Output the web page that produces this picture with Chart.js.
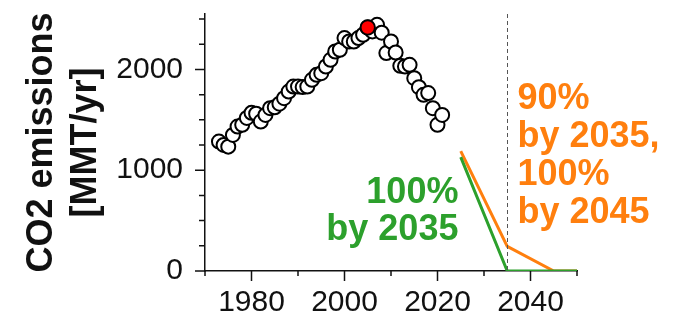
<!DOCTYPE html>
<html>
<head>
<meta charset="utf-8">
<script src="https://cdn.jsdelivr.net/npm/chart.js@4.4.1/dist/chart.umd.min.js"></script>
<style>
  html, body { margin: 0; padding: 0; background: #fff; }
  #wrap { width: 681px; height: 325px; position: relative; }
</style>
</head>
<body>
<div id="wrap"><canvas id="c" width="681" height="325"></canvas></div>
<script>
// ---------- data ----------
const histYears = [1973,1974,1975,1976,1977,1978,1979,1980,1981,1982,1983,1984,1985,1986,1987,1988,1989,1990,1991,1992,1993,1994,1995,1996,1997,1998,1999,2000,2001,2002,2003,2004,2005,2006,2007,2008,2009,2010,2011,2012,2013,2014,2015,2016,2017,2018,2019,2020,2021];
const histValues = [1284,1251,1234,1350,1433,1450,1519,1569,1560,1483,1549,1616,1625,1660,1715,1780,1830,1830,1825,1830,1897,1946,1963,2029,2095,2178,2195,2311,2277,2277,2311,2344,2416,2377,2443,2365,2162,2277,2168,2036,2029,2046,1913,1824,1748,1765,1616,1450,1549];
const peakYear = 2005;

const greenYears  = [2025, 2035, 2050];
const greenValues = [1130, 0, 0];
const orangeYears  = [2025, 2035, 2045, 2050];
const orangeValues = [1190, 245, 0, 0];

const targetYear = 2035;                 // dashed reference line

const greenLabel  = ["100%", "by 2035"];
const orangeLabel = ["90%", "by 2035,", "100%", "by 2045"];

const xTickLabels = [1980, 2000, 2020, 2040];
const yTickLabels = [0, 1000, 2000];

// ---------- build ----------
const toXY = (xs, ys) => xs.map((x, i) => ({x: x, y: ys[i]}));
const peakPoint = [{x: peakYear, y: histValues[histYears.indexOf(peakYear)]}];

const GREEN = '#2ca02c';
const ORANGE = '#ff7f0e';
const FONT = "'Liberation Sans', Arial, Helvetica, sans-serif";

const decorPlugin = {
  id: 'decor',
  afterDatasetsDraw(chart) {
    const ctx = chart.ctx, ca = chart.chartArea;
    const x = chart.scales.x, y = chart.scales.y;
    ctx.save();
    // dashed vertical line
    const dx = Math.round(x.getPixelForValue(targetYear)) + 0.5;
    ctx.strokeStyle = '#555';
    ctx.lineWidth = 1;
    ctx.setLineDash([4, 3]);
    ctx.beginPath();
    ctx.moveTo(dx, ca.top);
    ctx.lineTo(dx, ca.bottom);
    ctx.stroke();
    ctx.setLineDash([]);

    // annotations
    ctx.font = "bold 36px " + FONT;
    ctx.textBaseline = 'alphabetic';
    ctx.fillStyle = GREEN;
    ctx.textAlign = 'right';
    const gx = x.getPixelForValue(2024.5), gy = y.getPixelForValue(675);
    greenLabel.forEach((t, i) => ctx.fillText(t, gx, gy + i * 37));
    ctx.fillStyle = ORANGE;
    ctx.textAlign = 'left';
    const ox = x.getPixelForValue(2037.2), oy = y.getPixelForValue(1610);
    orangeLabel.forEach((t, i) => ctx.fillText(t, ox, oy + i * 38));
    ctx.restore();
  },
  afterDraw(chart) {
    // major + minor tick marks
    const ctx = chart.ctx, ca = chart.chartArea;
    const x = chart.scales.x, y = chart.scales.y;
    ctx.save();
    ctx.setLineDash([]);
    ctx.strokeStyle = '#111111';
    ctx.lineWidth = 1.5;
    ctx.beginPath();
    for (let v = x.min; v <= x.max + 1e-6; v += 10) {
      const px = x.getPixelForValue(v);
      const len = (Math.round(v) % 20 === 0) ? 10 : 5;
      ctx.moveTo(px, ca.bottom);
      ctx.lineTo(px, ca.bottom + len);
    }
    for (let v = 0; v <= y.max + 1e-6; v += 250) {
      const py = y.getPixelForValue(v);
      const len = (v % 1000 === 0) ? 10 : 6;
      ctx.moveTo(ca.left, py);
      ctx.lineTo(ca.left - len, py);
    }
    ctx.stroke();
    ctx.restore();
  }
};

new Chart(document.getElementById('c'), {
  type: 'scatter',
  data: {
    datasets: [
      {
        label: 'peak', data: peakPoint, order: 0,
        pointRadius: 7.2, pointBackgroundColor: '#ff0000', pointBorderColor: '#000', pointBorderWidth: 2
      },
      {
        label: 'historical', data: toXY(histYears, histValues), order: 1,
        pointRadius: 7, pointBackgroundColor: '#fff', pointBorderColor: '#000', pointBorderWidth: 2
      },
      {
        label: '100% by 2035', type: 'line', data: toXY(greenYears, greenValues), order: 2,
        borderColor: GREEN, borderWidth: 3, pointRadius: 0, fill: false, tension: 0
      },
      {
        label: '90% by 2035, 100% by 2045', type: 'line', data: toXY(orangeYears, orangeValues), order: 3,
        borderColor: ORANGE, borderWidth: 3, pointRadius: 0, fill: false, tension: 0
      }
    ]
  },
  options: {
    responsive: false,
    animation: false,
    events: [],
    layout: { padding: { left: 0, top: 14, right: 104, bottom: 0 } },
    plugins: { legend: { display: false }, tooltip: { enabled: false } },
    scales: {
      x: {
        type: 'linear', min: 1970, max: 2050,
        afterBuildTicks: s => { s.ticks = xTickLabels.map(v => ({value: v})); },
        afterFit: s => { s.height = 54; s.paddingLeft = 0; s.paddingRight = 0; },
        grid: { display: false, drawTicks: false },
        border: { display: true, color: '#111', width: 1.5 },
        ticks: {
          autoSkip: false, maxRotation: 0, minRotation: 0,
          padding: 14, color: '#111', font: { family: FONT, size: 30 },
          callback: v => String(v)
        }
      },
      y: {
        type: 'linear', min: 0, max: 2550,
        afterBuildTicks: s => { s.ticks = yTickLabels.map(v => ({value: v})); },
        afterFit: s => { s.width = 205; s.paddingTop = 0; s.paddingBottom = 0; },
        grid: { display: false, drawTicks: false },
        border: { display: true, color: '#111', width: 1.5 },
        ticks: {
          autoSkip: false, padding: 22, color: '#111',
          font: { family: FONT, size: 30 },
          callback: v => String(v)
        },
        title: {
          display: true, text: ['CO2 emissions', '[MMT/yr]'], color: '#111',
          font: { family: FONT, size: 36, weight: 'bold', lineHeight: 1.22 },
          padding: { top: 20, bottom: 0 }
        }
      }
    }
  },
  plugins: [decorPlugin]
});
</script>
</body>
</html>
